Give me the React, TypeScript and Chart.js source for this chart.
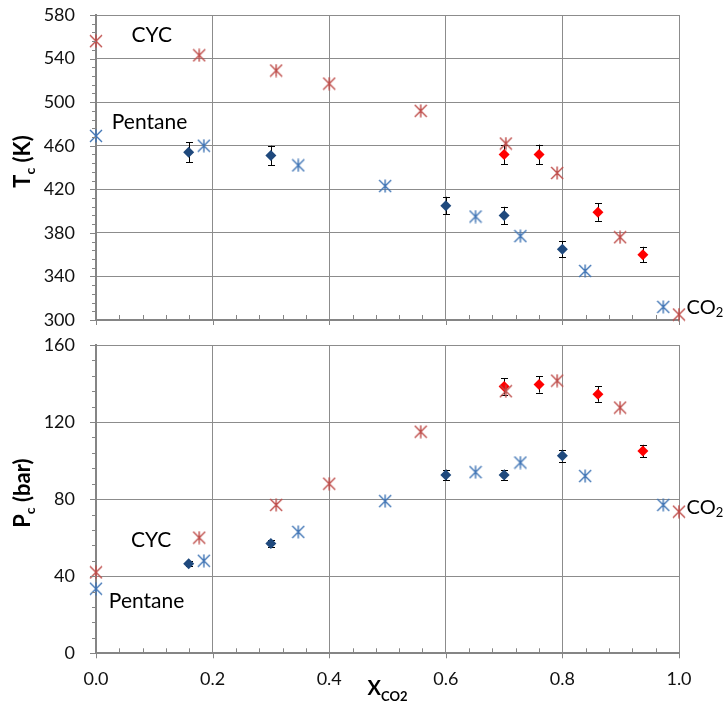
import React, { useEffect, useRef } from 'react';
import { Chart, registerables } from 'chart.js';

Chart.register(...registerables);

// ---------- data ----------
const xMin = 0;
const xMax = 1;
const xMajorStep = 0.2;
const xMinorStep = 0.04;

const tcMin = 300;
const tcMax = 580;
const pcMin = 0;
const pcMax = 160;
const yMajorStep = 40;
const yMinorStep = 8;

// model: cyclopentane (CYC) + CO2
const cycX = [0.0, 0.177, 0.309, 0.4, 0.557, 0.703, 0.791, 0.899, 1.0];
const cycTc = [556, 543, 529, 517, 492, 462, 435, 376, 305];
const cycPc = [42, 60, 77, 88, 115, 136, 141.5, 127.5, 73.5];

// model: pentane + CO2
const pentX = [0.0, 0.185, 0.347, 0.496, 0.651, 0.728, 0.839, 0.973];
const pentTc = [469, 460, 442, 423, 395, 377, 345, 312];
const pentPc = [33.5, 48, 63, 79, 94, 99, 92, 77];

// experiment: pentane + CO2
const expPentX = [0.159, 0.3, 0.6, 0.7, 0.8];
const expPentTc = [454, 451, 405, 396, 365];
const expPentTcErr = [9.1, 9.0, 8.1, 7.9, 7.3];
const expPentPc = [46.5, 57, 92.5, 92.5, 102.5];
const expPentPcErr = [1.4, 1.7, 2.8, 2.8, 3.1];

// experiment: CYC + CO2
const expCycX = [0.7, 0.76, 0.861, 0.938];
const expCycTc = [452, 452, 399, 360];
const expCycTcErr = [9.0, 9.0, 8.0, 7.2];
const expCycPc = [138.5, 139.5, 134.5, 105];
const expCycPcErr = [4.2, 4.2, 4.0, 3.2];

// ---------- styles ----------
const FONT = 'Lato, "Open Sans", sans-serif';
const GRID = '#8c8c8c';
const AXIS = '#858585';
const CYC_COLOR = '#BE4B48';
const PENT_COLOR = '#3F74B5';
const EXP_PENT_COLOR = '#1F497D';
const EXP_CYC_COLOR = '#FF0000';

type Part = { t: string; size: number; dy: number };
type Note = { parts: Part[]; x: number; y: number };

const topNotes: Note[] = [
  { parts: [{ t: 'CYC', size: 21, dy: 0 }], x: 0.061, y: 555.5 },
  { parts: [{ t: 'Pentane', size: 21, dy: 0 }], x: 0.027, y: 475 },
  { parts: [{ t: 'CO', size: 20, dy: 0 }, { t: '2', size: 13, dy: 3 }], x: 1.013, y: 305.2 },
];
const bottomNotes: Note[] = [
  { parts: [{ t: 'CYC', size: 21, dy: 0 }], x: 0.06, y: 55.2 },
  { parts: [{ t: 'Pentane', size: 21, dy: 0 }], x: 0.022, y: 23.5 },
  { parts: [{ t: 'CO', size: 20, dy: 0 }, { t: '2', size: 13, dy: 3 }], x: 1.013, y: 72.3 },
];

const zip = (xs: number[], ys: number[]) => xs.map((x, i) => ({ x, y: ys[i] }));

function makeStar(color: string): HTMLCanvasElement {
  const c = document.createElement('canvas');
  c.width = 14;
  c.height = 14;
  const ctx = c.getContext('2d')!;
  ctx.strokeStyle = color;
  ctx.lineWidth = 1.4;
  ctx.beginPath();
  ctx.moveTo(1, 1);
  ctx.lineTo(13, 13);
  ctx.moveTo(13, 1);
  ctx.lineTo(1, 13);
  ctx.moveTo(7, 0.5);
  ctx.lineTo(7, 13.5);
  ctx.stroke();
  return c;
}

function drawRich(ctx: CanvasRenderingContext2D, parts: Part[], x: number, y: number, bold: boolean, center: boolean) {
  const fontOf = (p: Part) => `${bold ? 'bold ' : ''}${p.size}px ${FONT}`;
  const widths = parts.map((p) => {
    ctx.font = fontOf(p);
    return ctx.measureText(p.t).width;
  });
  const total = widths.reduce((a, b) => a + b, 0);
  let cx = center ? x - total / 2 : x;
  ctx.textAlign = 'left';
  ctx.textBaseline = 'alphabetic';
  parts.forEach((p, i) => {
    ctx.font = fontOf(p);
    ctx.fillText(p.t, cx, y + p.dy);
    cx += widths[i];
  });
}

type PanelCfg = {
  yMin: number;
  yMax: number;
  model: { x: number[]; y: number[]; color: string }[];
  exp: { x: number[]; y: number[]; err: number[]; color: string }[];
  notes: Note[];
  yTitle: Part[];
  showXLabels: boolean;
  xAxisHeight: number;
};

function buildChart(canvas: HTMLCanvasElement, cfg: PanelCfg) {
  const datasets: any[] = [];
  cfg.exp.forEach((e, i) => {
    datasets.push({
      label: 'exp' + i,
      data: zip(e.x, e.y),
      errors: e.err,
      pointStyle: 'rectRot',
      pointRadius: 5.5,
      backgroundColor: e.color,
      borderColor: e.color,
      borderWidth: 0,
      showLine: false,
      clip: false,
      order: 2,
    });
  });
  cfg.model.forEach((m, i) => {
    datasets.push({
      label: 'model' + i,
      data: zip(m.x, m.y),
      pointStyle: makeStar(m.color),
      pointRadius: 7,
      showLine: false,
      clip: false,
      order: 1,
    });
  });

  const errorBars = {
    id: 'errorBars',
    beforeDatasetsDraw(chart: any) {
      const ctx = chart.ctx;
      const ys = chart.scales.y;
      ctx.save();
      ctx.strokeStyle = '#000';
      ctx.lineWidth = 1;
      chart.data.datasets.forEach((ds: any, i: number) => {
        if (!ds.errors) return;
        const meta = chart.getDatasetMeta(i);
        meta.data.forEach((pt: any, j: number) => {
          const v = ds.data[j].y;
          const e = ds.errors[j];
          const y1 = ys.getPixelForValue(v + e);
          const y2 = ys.getPixelForValue(v - e);
          const x = Math.round(pt.x) + 0.5;
          ctx.beginPath();
          ctx.moveTo(x, y1);
          ctx.lineTo(x, y2);
          ctx.moveTo(x - 3.5, Math.round(y1) + 0.5);
          ctx.lineTo(x + 3.5, Math.round(y1) + 0.5);
          ctx.moveTo(x - 3.5, Math.round(y2) + 0.5);
          ctx.lineTo(x + 3.5, Math.round(y2) + 0.5);
          ctx.stroke();
        });
      });
      ctx.restore();
    },
  };

  const decorations = {
    id: 'decorations',
    afterDraw(chart: any) {
      const ctx = chart.ctx as CanvasRenderingContext2D;
      const xs = chart.scales.x;
      const ys = chart.scales.y;
      const { left, right, top, bottom } = chart.chartArea;
      ctx.save();
      // tick marks
      ctx.strokeStyle = AXIS;
      ctx.lineWidth = 1;
      const nx = Math.round((xMax - xMin) / xMinorStep);
      const perX = Math.round(xMajorStep / xMinorStep);
      for (let i = 0; i <= nx; i++) {
        const px = Math.round(xs.getPixelForValue(xMin + i * xMinorStep)) + 0.5;
        ctx.beginPath();
        if (i % perX === 0) {
          ctx.moveTo(px, bottom);
          ctx.lineTo(px, bottom + 5);
        } else {
          ctx.moveTo(px, bottom);
          ctx.lineTo(px, bottom - 5);
        }
        ctx.stroke();
      }
      const ny = Math.round((cfg.yMax - cfg.yMin) / yMinorStep);
      const perY = Math.round(yMajorStep / yMinorStep);
      for (let i = 0; i <= ny; i++) {
        const py = Math.round(ys.getPixelForValue(cfg.yMin + i * yMinorStep)) + 0.5;
        ctx.beginPath();
        ctx.moveTo(left, py);
        ctx.lineTo(left - (i % perY === 0 ? 6 : 4), py);
        ctx.stroke();
      }
      // notes
      ctx.fillStyle = '#000';
      cfg.notes.forEach((n) => {
        drawRich(ctx, n.parts, xs.getPixelForValue(n.x), ys.getPixelForValue(n.y), false, false);
      });
      // y title
      ctx.save();
      ctx.translate(30, (top + bottom) / 2 - 6);
      ctx.rotate(-Math.PI / 2);
      drawRich(ctx, cfg.yTitle, 0, 0, true, true);
      ctx.restore();
      // x title
      if (cfg.showXLabels) {
        drawRich(
          ctx,
          [
            { t: 'X', size: 20, dy: 0 },
            { t: 'CO2', size: 13, dy: 6 },
          ],
          (left + right) / 2,
          bottom + 41.7,
          true,
          true
        );
      }
      ctx.restore();
    },
  };

  return new Chart(canvas, {
    type: 'scatter',
    data: { datasets },
    options: {
      animation: false,
      responsive: false,
      layout: { padding: { top: 15, right: 44, left: 0, bottom: 0 } },
      plugins: { legend: { display: false }, tooltip: { enabled: false } },
      scales: {
        x: {
          type: 'linear',
          min: xMin,
          max: xMax,
          afterFit: (s: any) => {
            s.height = cfg.xAxisHeight;
            s.paddingLeft = 0;
            s.paddingRight = 0;
          },
          ticks: {
            display: cfg.showXLabels,
            stepSize: xMajorStep,
            autoSkip: false,
            maxRotation: 0,
            padding: 15,
            color: '#111',
            font: { family: FONT, size: 18 },
            callback: (v: any) => Number(v).toFixed(1),
          },
          grid: { color: GRID, lineWidth: 1, drawTicks: false },
          border: { display: true, color: AXIS, width: 2 },
        },
        y: {
          type: 'linear',
          min: cfg.yMin,
          max: cfg.yMax,
          afterFit: (s: any) => {
            s.width = 96;
            s.paddingTop = 0;
            s.paddingBottom = 0;
          },
          ticks: {
            stepSize: yMajorStep,
            autoSkip: false,
            padding: 21,
            color: '#111',
            font: { family: FONT, size: 18 },
            callback: (v: any) => String(v),
          },
          grid: { color: GRID, lineWidth: 1, drawTicks: false },
          border: { display: true, color: AXIS, width: 2 },
        },
      },
    } as any,
    plugins: [errorBars, decorations],
  });
}

function Panel({ cfg, top, height }: { cfg: PanelCfg; top: number; height: number }) {
  const ref = useRef<HTMLCanvasElement>(null);
  useEffect(() => {
    const chart = buildChart(ref.current!, cfg);
    return () => chart.destroy();
  }, []);
  return (
    <canvas
      ref={ref}
      width={723}
      height={height}
      style={{ position: 'absolute', left: 0, top, width: 723, height }}
    />
  );
}

const topCfg: PanelCfg = {
  yMin: tcMin,
  yMax: tcMax,
  model: [
    { x: cycX, y: cycTc, color: CYC_COLOR },
    { x: pentX, y: pentTc, color: PENT_COLOR },
  ],
  exp: [
    { x: expPentX, y: expPentTc, err: expPentTcErr, color: EXP_PENT_COLOR },
    { x: expCycX, y: expCycTc, err: expCycTcErr, color: EXP_CYC_COLOR },
  ],
  notes: topNotes,
  yTitle: [
    { t: 'T', size: 22, dy: 0 },
    { t: 'c', size: 14, dy: 5 },
    { t: ' (K)', size: 22, dy: 0 },
  ],
  showXLabels: false,
  xAxisHeight: 15,
};

const bottomCfg: PanelCfg = {
  yMin: pcMin,
  yMax: pcMax,
  model: [
    { x: cycX, y: cycPc, color: CYC_COLOR },
    { x: pentX, y: pentPc, color: PENT_COLOR },
  ],
  exp: [
    { x: expPentX, y: expPentPc, err: expPentPcErr, color: EXP_PENT_COLOR },
    { x: expCycX, y: expCycPc, err: expCycPcErr, color: EXP_CYC_COLOR },
  ],
  notes: bottomNotes,
  yTitle: [
    { t: 'P', size: 22, dy: 0 },
    { t: 'c', size: 14, dy: 5 },
    { t: ' (bar)', size: 22, dy: 0 },
  ],
  showXLabels: true,
  xAxisHeight: 50.7,
};

export default function App() {
  return (
    <div style={{ position: 'absolute', left: 0, top: 0, width: 723, height: 704, background: '#fff' }}>
      <Panel cfg={bottomCfg} top={330} height={374} />
      <Panel cfg={topCfg} top={0} height={335} />
    </div>
  );
}
